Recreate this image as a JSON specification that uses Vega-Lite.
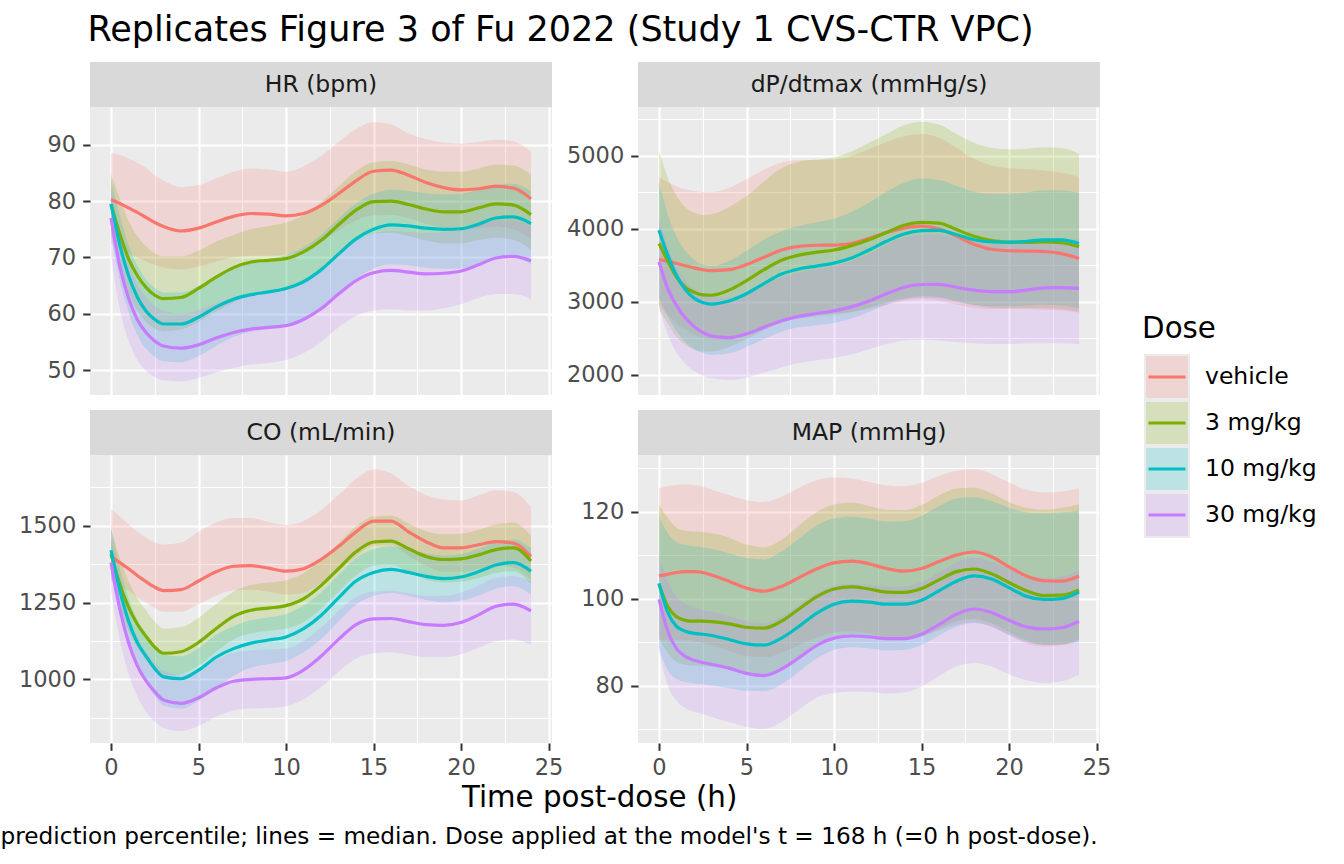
{
  "$schema": "https://vega.github.io/schema/vega-lite/v6.json",
  "padding": {"left": 0, "top": 13, "right": 10, "bottom": 6},
  "title": {"text": "Replicates Figure 3 of Fu 2022 (Study 1 CVS-CTR VPC)", "anchor": "start", "fontSize": 35, "fontWeight": "normal", "color": "#000000", "dx": 87, "offset": 14},
  "config": {
    "font": "DejaVu Sans",
    "view": {"stroke": null},
    "axis": {"domain": false, "gridColor": "#FFFFFF", "tickColor": "#333333", "tickWidth": 2, "tickSize": 7.3, "labelColor": "#4D4D4D", "labelFontSize": 22.5, "labelFont": "DejaVu Sans", "labelPadding": 7, "labelOverlap": false, "labelFlush": false, "title": null},
    "title": {"fontWeight": "normal", "color": "#000000", "font": "DejaVu Sans"}
  },
  "data": {"name": "vpc"},
  "vconcat": [
    {
      "title": {"text": "prediction percentile; lines = median. Dose applied at the model's t = 168 h (=0 h post-dose).", "orient": "bottom", "anchor": "end", "fontSize": 23.2, "offset": 13, "dx": -219},
      "spacing": 31,
      "hconcat": [
        {
          "title": {"text": "Time post-dose (h)", "orient": "bottom", "anchor": "middle", "fontSize": 29.3, "offset": 5, "dx": 35},
          "columns": 2,
          "spacing": {"row": 15, "column": 3},
          "concat": [
            {
              "spacing": 0,
              "vconcat": [
                {
                  "width": 462, "height": 45,
                  "view": {"fill": "#D9D9D9", "stroke": null},
                  "data": {"values": [{"strip": "HR (bpm)"}]},
                  "mark": {"type": "text", "fontSize": 23.5, "color": "#1A1A1A"},
                  "encoding": {"text": {"field": "strip", "type": "nominal"}}
                },
                {
                  "width": 462, "height": 288,
                  "view": {"fill": "#EBEBEB", "stroke": null},
                  "transform": [{"filter": "datum.p === 'HR'"}],
                  "encoding": {
                    "x": {"field": "t", "type": "quantitative", "scale": {"domain": [-1.2, 25.2], "nice": false, "zero": false},
                      "axis": {"values": [0, 2.5, 5, 7.5, 10, 12.5, 15, 17.5, 20, 22.5, 25], "labels": false, "ticks": false, "minExtent": 0, "maxExtent": 0,
                        "gridWidth": {"condition": {"test": "datum.value % 5 === 0", "value": 2.2}, "value": 1.1}}},
                    "color": {"field": "d", "type": "nominal", "legend": null,
                      "scale": {"domain": ["vehicle", "3 mg/kg", "10 mg/kg", "30 mg/kg"], "range": ["#F8766D", "#7CAE00", "#00BFC4", "#C77CFF"]}}
                  },
                  "layer": [
                    {
                      "mark": {"type": "area", "opacity": 0.2, "interpolate": "monotone"},
                      "encoding": {
                        "y": {"field": "l", "type": "quantitative", "scale": {"domain": [45.6, 96.7], "nice": false, "zero": false},
                          "axis": {"values": [50, 55, 60, 65, 70, 75, 80, 85, 90, 95], "minExtent": 70, "maxExtent": 70,
                            "labelExpr": "datum.value % 10 === 0 ? datum.label : ''",
                            "tickOpacity": {"condition": {"test": "datum.value % 10 === 0", "value": 1}, "value": 0},
                            "gridWidth": {"condition": {"test": "datum.value % 10 === 0", "value": 2.2}, "value": 1.1}}},
                        "y2": {"field": "h"}
                      }
                    },
                    {"mark": {"type": "line", "strokeWidth": 3.2, "interpolate": "monotone"}, "encoding": {"y": {"field": "m", "type": "quantitative"}}}
                  ]
                }
              ]
            },
            {
              "spacing": 0,
              "vconcat": [
                {
                  "width": 462, "height": 45,
                  "view": {"fill": "#D9D9D9", "stroke": null},
                  "data": {"values": [{"strip": "dP/dtmax (mmHg/s)"}]},
                  "mark": {"type": "text", "fontSize": 23.5, "color": "#1A1A1A"},
                  "encoding": {"text": {"field": "strip", "type": "nominal"}}
                },
                {
                  "width": 462, "height": 288,
                  "view": {"fill": "#EBEBEB", "stroke": null},
                  "transform": [{"filter": "datum.p === 'dP'"}],
                  "encoding": {
                    "x": {"field": "t", "type": "quantitative", "scale": {"domain": [-1.2, 25.2], "nice": false, "zero": false},
                      "axis": {"values": [0, 2.5, 5, 7.5, 10, 12.5, 15, 17.5, 20, 22.5, 25], "labels": false, "ticks": false, "minExtent": 0, "maxExtent": 0,
                        "gridWidth": {"condition": {"test": "datum.value % 5 === 0", "value": 2.2}, "value": 1.1}}},
                    "color": {"field": "d", "type": "nominal", "legend": null,
                      "scale": {"domain": ["vehicle", "3 mg/kg", "10 mg/kg", "30 mg/kg"], "range": ["#F8766D", "#7CAE00", "#00BFC4", "#C77CFF"]}}
                  },
                  "layer": [
                    {
                      "mark": {"type": "area", "opacity": 0.2, "interpolate": "monotone"},
                      "encoding": {
                        "y": {"field": "l", "type": "quantitative", "scale": {"domain": [1722, 5671], "nice": false, "zero": false},
                          "axis": {"values": [2000, 2500, 3000, 3500, 4000, 4500, 5000, 5500], "minExtent": 70, "maxExtent": 70, "format": "d",
                            "labelExpr": "datum.value % 1000 === 0 ? datum.label : ''",
                            "tickOpacity": {"condition": {"test": "datum.value % 1000 === 0", "value": 1}, "value": 0},
                            "gridWidth": {"condition": {"test": "datum.value % 1000 === 0", "value": 2.2}, "value": 1.1}}},
                        "y2": {"field": "h"}
                      }
                    },
                    {"mark": {"type": "line", "strokeWidth": 3.2, "interpolate": "monotone"}, "encoding": {"y": {"field": "m", "type": "quantitative"}}}
                  ]
                }
              ]
            },
            {
              "spacing": 0,
              "vconcat": [
                {
                  "width": 462, "height": 45,
                  "view": {"fill": "#D9D9D9", "stroke": null},
                  "data": {"values": [{"strip": "CO (mL/min)"}]},
                  "mark": {"type": "text", "fontSize": 23.5, "color": "#1A1A1A"},
                  "encoding": {"text": {"field": "strip", "type": "nominal"}}
                },
                {
                  "width": 462, "height": 288,
                  "view": {"fill": "#EBEBEB", "stroke": null},
                  "transform": [{"filter": "datum.p === 'CO'"}],
                  "encoding": {
                    "x": {"field": "t", "type": "quantitative", "scale": {"domain": [-1.2, 25.2], "nice": false, "zero": false},
                      "axis": {"values": [0, 2.5, 5, 7.5, 10, 12.5, 15, 17.5, 20, 22.5, 25], "labelPadding": 6,
                        "labelExpr": "datum.value % 5 === 0 ? datum.label : ''",
                        "tickOpacity": {"condition": {"test": "datum.value % 5 === 0", "value": 1}, "value": 0},
                        "gridWidth": {"condition": {"test": "datum.value % 5 === 0", "value": 2.2}, "value": 1.1}}},
                    "color": {"field": "d", "type": "nominal", "legend": null,
                      "scale": {"domain": ["vehicle", "3 mg/kg", "10 mg/kg", "30 mg/kg"], "range": ["#F8766D", "#7CAE00", "#00BFC4", "#C77CFF"]}}
                  },
                  "layer": [
                    {
                      "mark": {"type": "area", "opacity": 0.2, "interpolate": "monotone"},
                      "encoding": {
                        "y": {"field": "l", "type": "quantitative", "scale": {"domain": [793, 1730], "nice": false, "zero": false},
                          "axis": {"values": [875, 1000, 1125, 1250, 1375, 1500, 1625], "minExtent": 70, "maxExtent": 70, "format": "d",
                            "labelExpr": "datum.value % 250 === 0 ? datum.label : ''",
                            "tickOpacity": {"condition": {"test": "datum.value % 250 === 0", "value": 1}, "value": 0},
                            "gridWidth": {"condition": {"test": "datum.value % 250 === 0", "value": 2.2}, "value": 1.1}}},
                        "y2": {"field": "h"}
                      }
                    },
                    {"mark": {"type": "line", "strokeWidth": 3.2, "interpolate": "monotone"}, "encoding": {"y": {"field": "m", "type": "quantitative"}}}
                  ]
                }
              ]
            },
            {
              "spacing": 0,
              "vconcat": [
                {
                  "width": 462, "height": 45,
                  "view": {"fill": "#D9D9D9", "stroke": null},
                  "data": {"values": [{"strip": "MAP (mmHg)"}]},
                  "mark": {"type": "text", "fontSize": 23.5, "color": "#1A1A1A"},
                  "encoding": {"text": {"field": "strip", "type": "nominal"}}
                },
                {
                  "width": 462, "height": 288,
                  "view": {"fill": "#EBEBEB", "stroke": null},
                  "transform": [{"filter": "datum.p === 'MAP'"}],
                  "encoding": {
                    "x": {"field": "t", "type": "quantitative", "scale": {"domain": [-1.2, 25.2], "nice": false, "zero": false},
                      "axis": {"values": [0, 2.5, 5, 7.5, 10, 12.5, 15, 17.5, 20, 22.5, 25], "labelPadding": 6,
                        "labelExpr": "datum.value % 5 === 0 ? datum.label : ''",
                        "tickOpacity": {"condition": {"test": "datum.value % 5 === 0", "value": 1}, "value": 0},
                        "gridWidth": {"condition": {"test": "datum.value % 5 === 0", "value": 2.2}, "value": 1.1}}},
                    "color": {"field": "d", "type": "nominal", "legend": null,
                      "scale": {"domain": ["vehicle", "3 mg/kg", "10 mg/kg", "30 mg/kg"], "range": ["#F8766D", "#7CAE00", "#00BFC4", "#C77CFF"]}}
                  },
                  "layer": [
                    {
                      "mark": {"type": "area", "opacity": 0.2, "interpolate": "monotone"},
                      "encoding": {
                        "y": {"field": "l", "type": "quantitative", "scale": {"domain": [66.8, 133], "nice": false, "zero": false},
                          "axis": {"values": [70, 80, 90, 100, 110, 120, 130], "minExtent": 70, "maxExtent": 70,
                            "labelExpr": "datum.value % 20 === 0 ? datum.label : ''",
                            "tickOpacity": {"condition": {"test": "datum.value % 20 === 0", "value": 1}, "value": 0},
                            "gridWidth": {"condition": {"test": "datum.value % 20 === 0", "value": 2.2}, "value": 1.1}}},
                        "y2": {"field": "h"}
                      }
                    },
                    {"mark": {"type": "line", "strokeWidth": 3.2, "interpolate": "monotone"}, "encoding": {"y": {"field": "m", "type": "quantitative"}}}
                  ]
                }
              ]
            }
          ]
        },
        {
          "spacing": 0,
          "vconcat": [
            {"width": 46, "height": 252, "data": {"values": []}, "mark": "point"},
            {
              "width": 46, "height": 184,
              "title": {"text": "Dose", "anchor": "start", "fontSize": 29.3, "offset": 10},
              "data": {"values": [{"d": "vehicle"}, {"d": "3 mg/kg"}, {"d": "10 mg/kg"}, {"d": "30 mg/kg"}]},
              "encoding": {
                "y": {"field": "d", "type": "nominal", "sort": ["vehicle", "3 mg/kg", "10 mg/kg", "30 mg/kg"], "axis": null, "scale": {"padding": 0.5}}
              },
              "layer": [
                {"mark": {"type": "square", "size": 2116, "color": "#EBEBEB", "opacity": 1}},
                {"mark": {"type": "square", "size": 1764, "opacity": 0.2},
                 "encoding": {"color": {"field": "d", "type": "nominal", "legend": null, "scale": {"domain": ["vehicle", "3 mg/kg", "10 mg/kg", "30 mg/kg"], "range": ["#F8766D", "#7CAE00", "#00BFC4", "#C77CFF"]}}}},
                {"mark": {"type": "point", "shape": "M-1,0H1", "size": 1369, "filled": false, "strokeWidth": 3.2, "opacity": 1},
                 "encoding": {"color": {"field": "d", "type": "nominal", "legend": null, "scale": {"domain": ["vehicle", "3 mg/kg", "10 mg/kg", "30 mg/kg"], "range": ["#F8766D", "#7CAE00", "#00BFC4", "#C77CFF"]}}}},
                {"mark": {"type": "text", "align": "left", "dx": 38, "fontSize": 23.5, "color": "#000000"}, "encoding": {"text": {"field": "d", "type": "nominal"}}}
              ]
            }
          ]
        }
      ]
    }
  ],
  "datasets": {
    "vpc": [
      {"p":"HR","d":"vehicle","t":0,"m":80.3,"l":72.5,"h":88.6},
      {"p":"HR","d":"vehicle","t":0.5,"m":79.6,"l":71.5,"h":88.2},
      {"p":"HR","d":"vehicle","t":1,"m":78.8,"l":70.8,"h":87.6},
      {"p":"HR","d":"vehicle","t":1.5,"m":78.0,"l":70.0,"h":86.8},
      {"p":"HR","d":"vehicle","t":2,"m":77.1,"l":69.3,"h":85.9},
      {"p":"HR","d":"vehicle","t":2.5,"m":76.2,"l":68.7,"h":84.6},
      {"p":"HR","d":"vehicle","t":3,"m":75.5,"l":68.2,"h":83.6},
      {"p":"HR","d":"vehicle","t":4,"m":74.7,"l":67.9,"h":82.5},
      {"p":"HR","d":"vehicle","t":5,"m":75.2,"l":68.4,"h":82.8},
      {"p":"HR","d":"vehicle","t":6,"m":76.3,"l":69.3,"h":84.0},
      {"p":"HR","d":"vehicle","t":7,"m":77.3,"l":70.0,"h":85.2},
      {"p":"HR","d":"vehicle","t":8,"m":77.8,"l":70.3,"h":85.8},
      {"p":"HR","d":"vehicle","t":9,"m":77.7,"l":70.3,"h":85.6},
      {"p":"HR","d":"vehicle","t":10,"m":77.4,"l":70.5,"h":85.2},
      {"p":"HR","d":"vehicle","t":11,"m":77.8,"l":71.3,"h":86.2},
      {"p":"HR","d":"vehicle","t":12,"m":79.2,"l":72.8,"h":88.0},
      {"p":"HR","d":"vehicle","t":13,"m":81.3,"l":74.8,"h":90.5},
      {"p":"HR","d":"vehicle","t":14,"m":83.6,"l":76.6,"h":92.8},
      {"p":"HR","d":"vehicle","t":15,"m":85.3,"l":77.5,"h":94.0},
      {"p":"HR","d":"vehicle","t":16,"m":85.5,"l":77.6,"h":93.6},
      {"p":"HR","d":"vehicle","t":17,"m":84.6,"l":77.0,"h":92.0},
      {"p":"HR","d":"vehicle","t":18,"m":83.3,"l":76.0,"h":91.0},
      {"p":"HR","d":"vehicle","t":19,"m":82.4,"l":75.3,"h":90.4},
      {"p":"HR","d":"vehicle","t":20,"m":82.0,"l":75.0,"h":90.2},
      {"p":"HR","d":"vehicle","t":21,"m":82.2,"l":75.2,"h":90.5},
      {"p":"HR","d":"vehicle","t":22,"m":82.6,"l":75.5,"h":90.9},
      {"p":"HR","d":"vehicle","t":23,"m":82.3,"l":75.0,"h":90.6},
      {"p":"HR","d":"vehicle","t":24,"m":80.4,"l":73.3,"h":88.8},

      {"p":"HR","d":"3 mg/kg","t":0,"m":79.4,"l":74.5,"h":84.8},
      {"p":"HR","d":"3 mg/kg","t":0.5,"m":74.2,"l":68.6,"h":80.5},
      {"p":"HR","d":"3 mg/kg","t":1,"m":69.8,"l":63.8,"h":76.5},
      {"p":"HR","d":"3 mg/kg","t":1.5,"m":66.8,"l":60.6,"h":73.8},
      {"p":"HR","d":"3 mg/kg","t":2,"m":64.7,"l":58.6,"h":72.0},
      {"p":"HR","d":"3 mg/kg","t":2.5,"m":63.3,"l":57.4,"h":70.8},
      {"p":"HR","d":"3 mg/kg","t":3,"m":62.7,"l":56.9,"h":70.2},
      {"p":"HR","d":"3 mg/kg","t":4,"m":62.9,"l":57.2,"h":70.2},
      {"p":"HR","d":"3 mg/kg","t":5,"m":64.5,"l":58.6,"h":71.2},
      {"p":"HR","d":"3 mg/kg","t":6,"m":66.5,"l":60.4,"h":72.8},
      {"p":"HR","d":"3 mg/kg","t":7,"m":68.2,"l":62.0,"h":74.0},
      {"p":"HR","d":"3 mg/kg","t":8,"m":69.2,"l":63.2,"h":75.0},
      {"p":"HR","d":"3 mg/kg","t":9,"m":69.5,"l":63.8,"h":75.6},
      {"p":"HR","d":"3 mg/kg","t":10,"m":69.8,"l":64.3,"h":76.2},
      {"p":"HR","d":"3 mg/kg","t":11,"m":71.0,"l":65.6,"h":77.6},
      {"p":"HR","d":"3 mg/kg","t":12,"m":73.0,"l":67.6,"h":79.8},
      {"p":"HR","d":"3 mg/kg","t":13,"m":75.8,"l":70.3,"h":82.6},
      {"p":"HR","d":"3 mg/kg","t":14,"m":78.4,"l":72.8,"h":85.3},
      {"p":"HR","d":"3 mg/kg","t":15,"m":79.9,"l":74.2,"h":86.9},
      {"p":"HR","d":"3 mg/kg","t":16,"m":80.0,"l":74.4,"h":87.1},
      {"p":"HR","d":"3 mg/kg","t":17,"m":79.4,"l":73.8,"h":86.5},
      {"p":"HR","d":"3 mg/kg","t":18,"m":78.6,"l":73.0,"h":85.6},
      {"p":"HR","d":"3 mg/kg","t":19,"m":78.1,"l":72.5,"h":85.2},
      {"p":"HR","d":"3 mg/kg","t":20,"m":78.1,"l":72.5,"h":85.2},
      {"p":"HR","d":"3 mg/kg","t":21,"m":78.8,"l":73.1,"h":85.8},
      {"p":"HR","d":"3 mg/kg","t":22,"m":79.5,"l":73.5,"h":86.5},
      {"p":"HR","d":"3 mg/kg","t":23,"m":79.3,"l":73.1,"h":86.3},
      {"p":"HR","d":"3 mg/kg","t":24,"m":77.6,"l":71.4,"h":84.7},

      {"p":"HR","d":"10 mg/kg","t":0,"m":79.5,"l":74.0,"h":84.0},
      {"p":"HR","d":"10 mg/kg","t":0.5,"m":72.3,"l":66.0,"h":77.5},
      {"p":"HR","d":"10 mg/kg","t":1,"m":66.8,"l":60.3,"h":72.3},
      {"p":"HR","d":"10 mg/kg","t":1.5,"m":63.0,"l":56.3,"h":68.6},
      {"p":"HR","d":"10 mg/kg","t":2,"m":60.5,"l":53.8,"h":66.1},
      {"p":"HR","d":"10 mg/kg","t":2.5,"m":59.0,"l":52.4,"h":64.6},
      {"p":"HR","d":"10 mg/kg","t":3,"m":58.2,"l":51.6,"h":63.8},
      {"p":"HR","d":"10 mg/kg","t":4,"m":58.2,"l":51.4,"h":63.8},
      {"p":"HR","d":"10 mg/kg","t":5,"m":59.4,"l":52.5,"h":65.0},
      {"p":"HR","d":"10 mg/kg","t":6,"m":61.2,"l":54.3,"h":66.8},
      {"p":"HR","d":"10 mg/kg","t":7,"m":62.6,"l":55.9,"h":68.2},
      {"p":"HR","d":"10 mg/kg","t":8,"m":63.4,"l":56.8,"h":69.1},
      {"p":"HR","d":"10 mg/kg","t":9,"m":63.9,"l":57.3,"h":69.7},
      {"p":"HR","d":"10 mg/kg","t":10,"m":64.5,"l":57.9,"h":70.4},
      {"p":"HR","d":"10 mg/kg","t":11,"m":65.7,"l":59.1,"h":71.8},
      {"p":"HR","d":"10 mg/kg","t":12,"m":67.8,"l":61.1,"h":74.0},
      {"p":"HR","d":"10 mg/kg","t":13,"m":70.6,"l":63.8,"h":76.9},
      {"p":"HR","d":"10 mg/kg","t":14,"m":73.3,"l":66.3,"h":79.6},
      {"p":"HR","d":"10 mg/kg","t":15,"m":75.0,"l":68.0,"h":81.3},
      {"p":"HR","d":"10 mg/kg","t":16,"m":75.8,"l":68.8,"h":82.0},
      {"p":"HR","d":"10 mg/kg","t":17,"m":75.6,"l":68.6,"h":81.8},
      {"p":"HR","d":"10 mg/kg","t":18,"m":75.2,"l":68.2,"h":81.4},
      {"p":"HR","d":"10 mg/kg","t":19,"m":75.0,"l":68.0,"h":81.2},
      {"p":"HR","d":"10 mg/kg","t":20,"m":75.1,"l":68.1,"h":81.3},
      {"p":"HR","d":"10 mg/kg","t":21,"m":75.9,"l":68.8,"h":82.0},
      {"p":"HR","d":"10 mg/kg","t":22,"m":77.0,"l":69.8,"h":83.0},
      {"p":"HR","d":"10 mg/kg","t":23,"m":77.2,"l":69.9,"h":83.1},
      {"p":"HR","d":"10 mg/kg","t":24,"m":76.0,"l":68.8,"h":81.8},

      {"p":"HR","d":"30 mg/kg","t":0,"m":77.0,"l":70.5,"h":82.5},
      {"p":"HR","d":"30 mg/kg","t":0.5,"m":68.5,"l":61.0,"h":74.5},
      {"p":"HR","d":"30 mg/kg","t":1,"m":62.8,"l":55.3,"h":69.0},
      {"p":"HR","d":"30 mg/kg","t":1.5,"m":59.0,"l":51.8,"h":65.3},
      {"p":"HR","d":"30 mg/kg","t":2,"m":56.7,"l":49.9,"h":63.0},
      {"p":"HR","d":"30 mg/kg","t":2.5,"m":55.2,"l":48.8,"h":61.5},
      {"p":"HR","d":"30 mg/kg","t":3,"m":54.3,"l":48.2,"h":60.6},
      {"p":"HR","d":"30 mg/kg","t":4,"m":53.9,"l":48.0,"h":60.1},
      {"p":"HR","d":"30 mg/kg","t":5,"m":54.5,"l":48.6,"h":60.7},
      {"p":"HR","d":"30 mg/kg","t":6,"m":55.7,"l":49.6,"h":61.9},
      {"p":"HR","d":"30 mg/kg","t":7,"m":56.7,"l":50.4,"h":63.0},
      {"p":"HR","d":"30 mg/kg","t":8,"m":57.3,"l":51.0,"h":63.7},
      {"p":"HR","d":"30 mg/kg","t":9,"m":57.6,"l":51.3,"h":64.1},
      {"p":"HR","d":"30 mg/kg","t":10,"m":57.9,"l":51.8,"h":64.6},
      {"p":"HR","d":"30 mg/kg","t":11,"m":59.0,"l":53.0,"h":65.8},
      {"p":"HR","d":"30 mg/kg","t":12,"m":60.9,"l":55.0,"h":67.8},
      {"p":"HR","d":"30 mg/kg","t":13,"m":63.5,"l":57.6,"h":70.5},
      {"p":"HR","d":"30 mg/kg","t":14,"m":65.9,"l":59.6,"h":72.9},
      {"p":"HR","d":"30 mg/kg","t":15,"m":67.3,"l":60.6,"h":74.3},
      {"p":"HR","d":"30 mg/kg","t":16,"m":67.7,"l":60.8,"h":74.7},
      {"p":"HR","d":"30 mg/kg","t":17,"m":67.4,"l":60.6,"h":74.5},
      {"p":"HR","d":"30 mg/kg","t":18,"m":67.1,"l":60.6,"h":74.3},
      {"p":"HR","d":"30 mg/kg","t":19,"m":67.2,"l":61.0,"h":74.5},
      {"p":"HR","d":"30 mg/kg","t":20,"m":67.6,"l":61.7,"h":75.0},
      {"p":"HR","d":"30 mg/kg","t":21,"m":68.7,"l":62.8,"h":75.9},
      {"p":"HR","d":"30 mg/kg","t":22,"m":69.9,"l":63.5,"h":76.6},
      {"p":"HR","d":"30 mg/kg","t":23,"m":70.2,"l":63.5,"h":76.5},
      {"p":"HR","d":"30 mg/kg","t":24,"m":69.4,"l":62.6,"h":75.5},

      {"p":"dP","d":"vehicle","t":0,"m":3580,"l":2950,"h":4712},
      {"p":"dP","d":"vehicle","t":0.5,"m":3555,"l":2820,"h":4640},
      {"p":"dP","d":"vehicle","t":1,"m":3525,"l":2700,"h":4580},
      {"p":"dP","d":"vehicle","t":1.5,"m":3495,"l":2620,"h":4540},
      {"p":"dP","d":"vehicle","t":2,"m":3465,"l":2550,"h":4520},
      {"p":"dP","d":"vehicle","t":2.5,"m":3440,"l":2510,"h":4505},
      {"p":"dP","d":"vehicle","t":3,"m":3428,"l":2480,"h":4505},
      {"p":"dP","d":"vehicle","t":4,"m":3440,"l":2480,"h":4560},
      {"p":"dP","d":"vehicle","t":5,"m":3510,"l":2560,"h":4680},
      {"p":"dP","d":"vehicle","t":6,"m":3610,"l":2660,"h":4810},
      {"p":"dP","d":"vehicle","t":7,"m":3710,"l":2760,"h":4910},
      {"p":"dP","d":"vehicle","t":8,"m":3760,"l":2810,"h":4945},
      {"p":"dP","d":"vehicle","t":9,"m":3775,"l":2830,"h":4945},
      {"p":"dP","d":"vehicle","t":10,"m":3778,"l":2840,"h":4950},
      {"p":"dP","d":"vehicle","t":11,"m":3800,"l":2860,"h":5000},
      {"p":"dP","d":"vehicle","t":12,"m":3870,"l":2900,"h":5090},
      {"p":"dP","d":"vehicle","t":13,"m":3950,"l":2960,"h":5190},
      {"p":"dP","d":"vehicle","t":14,"m":4010,"l":3010,"h":5270},
      {"p":"dP","d":"vehicle","t":15,"m":4037,"l":3030,"h":5300},
      {"p":"dP","d":"vehicle","t":16,"m":4000,"l":3010,"h":5250},
      {"p":"dP","d":"vehicle","t":17,"m":3900,"l":2960,"h":5110},
      {"p":"dP","d":"vehicle","t":18,"m":3790,"l":2920,"h":4960},
      {"p":"dP","d":"vehicle","t":19,"m":3720,"l":2900,"h":4870},
      {"p":"dP","d":"vehicle","t":20,"m":3700,"l":2900,"h":4830},
      {"p":"dP","d":"vehicle","t":21,"m":3695,"l":2900,"h":4820},
      {"p":"dP","d":"vehicle","t":22,"m":3690,"l":2890,"h":4800},
      {"p":"dP","d":"vehicle","t":23,"m":3660,"l":2880,"h":4770},
      {"p":"dP","d":"vehicle","t":24,"m":3594,"l":2850,"h":4712},

      {"p":"dP","d":"3 mg/kg","t":0,"m":3800,"l":2900,"h":5070},
      {"p":"dP","d":"3 mg/kg","t":0.5,"m":3560,"l":2700,"h":4700},
      {"p":"dP","d":"3 mg/kg","t":1,"m":3340,"l":2520,"h":4450},
      {"p":"dP","d":"3 mg/kg","t":1.5,"m":3200,"l":2410,"h":4300},
      {"p":"dP","d":"3 mg/kg","t":2,"m":3130,"l":2350,"h":4220},
      {"p":"dP","d":"3 mg/kg","t":2.5,"m":3095,"l":2320,"h":4190},
      {"p":"dP","d":"3 mg/kg","t":3,"m":3090,"l":2320,"h":4200},
      {"p":"dP","d":"3 mg/kg","t":4,"m":3160,"l":2380,"h":4300},
      {"p":"dP","d":"3 mg/kg","t":5,"m":3290,"l":2490,"h":4450},
      {"p":"dP","d":"3 mg/kg","t":6,"m":3440,"l":2610,"h":4650},
      {"p":"dP","d":"3 mg/kg","t":7,"m":3570,"l":2710,"h":4830},
      {"p":"dP","d":"3 mg/kg","t":8,"m":3640,"l":2770,"h":4920},
      {"p":"dP","d":"3 mg/kg","t":9,"m":3680,"l":2800,"h":4950},
      {"p":"dP","d":"3 mg/kg","t":10,"m":3710,"l":2820,"h":4980},
      {"p":"dP","d":"3 mg/kg","t":11,"m":3770,"l":2860,"h":5060},
      {"p":"dP","d":"3 mg/kg","t":12,"m":3850,"l":2920,"h":5180},
      {"p":"dP","d":"3 mg/kg","t":13,"m":3950,"l":2990,"h":5300},
      {"p":"dP","d":"3 mg/kg","t":14,"m":4050,"l":3050,"h":5420},
      {"p":"dP","d":"3 mg/kg","t":15,"m":4090,"l":3080,"h":5470},
      {"p":"dP","d":"3 mg/kg","t":16,"m":4080,"l":3070,"h":5430},
      {"p":"dP","d":"3 mg/kg","t":17,"m":3990,"l":3010,"h":5300},
      {"p":"dP","d":"3 mg/kg","t":18,"m":3900,"l":2950,"h":5180},
      {"p":"dP","d":"3 mg/kg","t":19,"m":3840,"l":2920,"h":5110},
      {"p":"dP","d":"3 mg/kg","t":20,"m":3820,"l":2910,"h":5090},
      {"p":"dP","d":"3 mg/kg","t":21,"m":3815,"l":2910,"h":5100},
      {"p":"dP","d":"3 mg/kg","t":22,"m":3820,"l":2910,"h":5120},
      {"p":"dP","d":"3 mg/kg","t":23,"m":3810,"l":2900,"h":5110},
      {"p":"dP","d":"3 mg/kg","t":24,"m":3755,"l":2860,"h":5030},

      {"p":"dP","d":"10 mg/kg","t":0,"m":3980,"l":3050,"h":4650},
      {"p":"dP","d":"10 mg/kg","t":0.5,"m":3640,"l":2800,"h":4200},
      {"p":"dP","d":"10 mg/kg","t":1,"m":3360,"l":2600,"h":3900},
      {"p":"dP","d":"10 mg/kg","t":1.5,"m":3170,"l":2450,"h":3700},
      {"p":"dP","d":"10 mg/kg","t":2,"m":3050,"l":2350,"h":3580},
      {"p":"dP","d":"10 mg/kg","t":2.5,"m":2990,"l":2300,"h":3510},
      {"p":"dP","d":"10 mg/kg","t":3,"m":2968,"l":2270,"h":3490},
      {"p":"dP","d":"10 mg/kg","t":4,"m":3010,"l":2290,"h":3560},
      {"p":"dP","d":"10 mg/kg","t":5,"m":3110,"l":2380,"h":3700},
      {"p":"dP","d":"10 mg/kg","t":6,"m":3250,"l":2490,"h":3850},
      {"p":"dP","d":"10 mg/kg","t":7,"m":3380,"l":2590,"h":3970},
      {"p":"dP","d":"10 mg/kg","t":8,"m":3450,"l":2650,"h":4040},
      {"p":"dP","d":"10 mg/kg","t":9,"m":3490,"l":2680,"h":4090},
      {"p":"dP","d":"10 mg/kg","t":10,"m":3530,"l":2710,"h":4140},
      {"p":"dP","d":"10 mg/kg","t":11,"m":3600,"l":2770,"h":4230},
      {"p":"dP","d":"10 mg/kg","t":12,"m":3710,"l":2860,"h":4360},
      {"p":"dP","d":"10 mg/kg","t":13,"m":3830,"l":2960,"h":4510},
      {"p":"dP","d":"10 mg/kg","t":14,"m":3930,"l":3030,"h":4630},
      {"p":"dP","d":"10 mg/kg","t":15,"m":3975,"l":3060,"h":4690},
      {"p":"dP","d":"10 mg/kg","t":16,"m":3980,"l":3050,"h":4670},
      {"p":"dP","d":"10 mg/kg","t":17,"m":3920,"l":3000,"h":4590},
      {"p":"dP","d":"10 mg/kg","t":18,"m":3850,"l":2960,"h":4510},
      {"p":"dP","d":"10 mg/kg","t":19,"m":3820,"l":2940,"h":4480},
      {"p":"dP","d":"10 mg/kg","t":20,"m":3815,"l":2940,"h":4480},
      {"p":"dP","d":"10 mg/kg","t":21,"m":3830,"l":2950,"h":4500},
      {"p":"dP","d":"10 mg/kg","t":22,"m":3850,"l":2960,"h":4530},
      {"p":"dP","d":"10 mg/kg","t":23,"m":3850,"l":2950,"h":4530},
      {"p":"dP","d":"10 mg/kg","t":24,"m":3800,"l":2910,"h":4490},

      {"p":"dP","d":"30 mg/kg","t":0,"m":3550,"l":2950,"h":4150},
      {"p":"dP","d":"30 mg/kg","t":0.5,"m":3180,"l":2550,"h":3750},
      {"p":"dP","d":"30 mg/kg","t":1,"m":2950,"l":2300,"h":3480},
      {"p":"dP","d":"30 mg/kg","t":1.5,"m":2780,"l":2150,"h":3300},
      {"p":"dP","d":"30 mg/kg","t":2,"m":2660,"l":2050,"h":3180},
      {"p":"dP","d":"30 mg/kg","t":2.5,"m":2580,"l":1990,"h":3100},
      {"p":"dP","d":"30 mg/kg","t":3,"m":2530,"l":1950,"h":3060},
      {"p":"dP","d":"30 mg/kg","t":4,"m":2510,"l":1930,"h":3060},
      {"p":"dP","d":"30 mg/kg","t":5,"m":2560,"l":1960,"h":3130},
      {"p":"dP","d":"30 mg/kg","t":6,"m":2650,"l":2030,"h":3230},
      {"p":"dP","d":"30 mg/kg","t":7,"m":2740,"l":2100,"h":3330},
      {"p":"dP","d":"30 mg/kg","t":8,"m":2800,"l":2160,"h":3400},
      {"p":"dP","d":"30 mg/kg","t":9,"m":2840,"l":2200,"h":3450},
      {"p":"dP","d":"30 mg/kg","t":10,"m":2875,"l":2230,"h":3490},
      {"p":"dP","d":"30 mg/kg","t":11,"m":2930,"l":2280,"h":3560},
      {"p":"dP","d":"30 mg/kg","t":12,"m":3010,"l":2350,"h":3660},
      {"p":"dP","d":"30 mg/kg","t":13,"m":3110,"l":2420,"h":3780},
      {"p":"dP","d":"30 mg/kg","t":14,"m":3200,"l":2470,"h":3880},
      {"p":"dP","d":"30 mg/kg","t":15,"m":3237,"l":2480,"h":3920},
      {"p":"dP","d":"30 mg/kg","t":16,"m":3240,"l":2470,"h":3920},
      {"p":"dP","d":"30 mg/kg","t":17,"m":3200,"l":2450,"h":3870},
      {"p":"dP","d":"30 mg/kg","t":18,"m":3160,"l":2430,"h":3820},
      {"p":"dP","d":"30 mg/kg","t":19,"m":3140,"l":2420,"h":3800},
      {"p":"dP","d":"30 mg/kg","t":20,"m":3140,"l":2420,"h":3800},
      {"p":"dP","d":"30 mg/kg","t":21,"m":3160,"l":2430,"h":3820},
      {"p":"dP","d":"30 mg/kg","t":22,"m":3190,"l":2430,"h":3850},
      {"p":"dP","d":"30 mg/kg","t":23,"m":3195,"l":2430,"h":3860},
      {"p":"dP","d":"30 mg/kg","t":24,"m":3185,"l":2420,"h":3850},

      {"p":"CO","d":"vehicle","t":0,"m":1400,"l":1320,"h":1555},
      {"p":"CO","d":"vehicle","t":0.5,"m":1380,"l":1305,"h":1530},
      {"p":"CO","d":"vehicle","t":1,"m":1360,"l":1288,"h":1505},
      {"p":"CO","d":"vehicle","t":1.5,"m":1338,"l":1268,"h":1480},
      {"p":"CO","d":"vehicle","t":2,"m":1318,"l":1250,"h":1462},
      {"p":"CO","d":"vehicle","t":2.5,"m":1300,"l":1232,"h":1445},
      {"p":"CO","d":"vehicle","t":3,"m":1289,"l":1220,"h":1438},
      {"p":"CO","d":"vehicle","t":4,"m":1292,"l":1220,"h":1445},
      {"p":"CO","d":"vehicle","t":5,"m":1320,"l":1245,"h":1480},
      {"p":"CO","d":"vehicle","t":6,"m":1350,"l":1272,"h":1510},
      {"p":"CO","d":"vehicle","t":7,"m":1368,"l":1290,"h":1525},
      {"p":"CO","d":"vehicle","t":8,"m":1370,"l":1292,"h":1525},
      {"p":"CO","d":"vehicle","t":9,"m":1362,"l":1285,"h":1512},
      {"p":"CO","d":"vehicle","t":10,"m":1352,"l":1276,"h":1502},
      {"p":"CO","d":"vehicle","t":11,"m":1360,"l":1283,"h":1515},
      {"p":"CO","d":"vehicle","t":12,"m":1390,"l":1312,"h":1550},
      {"p":"CO","d":"vehicle","t":13,"m":1432,"l":1353,"h":1600},
      {"p":"CO","d":"vehicle","t":14,"m":1480,"l":1400,"h":1652},
      {"p":"CO","d":"vehicle","t":15,"m":1515,"l":1435,"h":1683},
      {"p":"CO","d":"vehicle","t":16,"m":1515,"l":1436,"h":1670},
      {"p":"CO","d":"vehicle","t":17,"m":1480,"l":1402,"h":1630},
      {"p":"CO","d":"vehicle","t":18,"m":1448,"l":1370,"h":1600},
      {"p":"CO","d":"vehicle","t":19,"m":1428,"l":1350,"h":1585},
      {"p":"CO","d":"vehicle","t":20,"m":1428,"l":1350,"h":1582},
      {"p":"CO","d":"vehicle","t":21,"m":1438,"l":1360,"h":1598},
      {"p":"CO","d":"vehicle","t":22,"m":1448,"l":1370,"h":1615},
      {"p":"CO","d":"vehicle","t":23,"m":1443,"l":1364,"h":1610},
      {"p":"CO","d":"vehicle","t":24,"m":1400,"l":1322,"h":1560},

      {"p":"CO","d":"3 mg/kg","t":0,"m":1408,"l":1330,"h":1490},
      {"p":"CO","d":"3 mg/kg","t":0.5,"m":1310,"l":1235,"h":1395},
      {"p":"CO","d":"3 mg/kg","t":1,"m":1235,"l":1160,"h":1320},
      {"p":"CO","d":"3 mg/kg","t":1.5,"m":1180,"l":1105,"h":1265},
      {"p":"CO","d":"3 mg/kg","t":2,"m":1140,"l":1065,"h":1225},
      {"p":"CO","d":"3 mg/kg","t":2.5,"m":1105,"l":1030,"h":1188},
      {"p":"CO","d":"3 mg/kg","t":3,"m":1085,"l":1012,"h":1165},
      {"p":"CO","d":"3 mg/kg","t":4,"m":1090,"l":1017,"h":1170},
      {"p":"CO","d":"3 mg/kg","t":5,"m":1120,"l":1045,"h":1200},
      {"p":"CO","d":"3 mg/kg","t":6,"m":1165,"l":1090,"h":1245},
      {"p":"CO","d":"3 mg/kg","t":7,"m":1205,"l":1130,"h":1285},
      {"p":"CO","d":"3 mg/kg","t":8,"m":1225,"l":1150,"h":1307},
      {"p":"CO","d":"3 mg/kg","t":9,"m":1232,"l":1158,"h":1315},
      {"p":"CO","d":"3 mg/kg","t":10,"m":1240,"l":1165,"h":1322},
      {"p":"CO","d":"3 mg/kg","t":11,"m":1262,"l":1187,"h":1345},
      {"p":"CO","d":"3 mg/kg","t":12,"m":1305,"l":1230,"h":1388},
      {"p":"CO","d":"3 mg/kg","t":13,"m":1360,"l":1285,"h":1442},
      {"p":"CO","d":"3 mg/kg","t":14,"m":1415,"l":1338,"h":1497},
      {"p":"CO","d":"3 mg/kg","t":15,"m":1447,"l":1370,"h":1530},
      {"p":"CO","d":"3 mg/kg","t":16,"m":1450,"l":1373,"h":1532},
      {"p":"CO","d":"3 mg/kg","t":17,"m":1425,"l":1350,"h":1507},
      {"p":"CO","d":"3 mg/kg","t":18,"m":1400,"l":1325,"h":1482},
      {"p":"CO","d":"3 mg/kg","t":19,"m":1390,"l":1316,"h":1472},
      {"p":"CO","d":"3 mg/kg","t":20,"m":1392,"l":1318,"h":1474},
      {"p":"CO","d":"3 mg/kg","t":21,"m":1405,"l":1330,"h":1487},
      {"p":"CO","d":"3 mg/kg","t":22,"m":1422,"l":1346,"h":1504},
      {"p":"CO","d":"3 mg/kg","t":23,"m":1428,"l":1352,"h":1510},
      {"p":"CO","d":"3 mg/kg","t":24,"m":1385,"l":1310,"h":1467},

      {"p":"CO","d":"10 mg/kg","t":0,"m":1420,"l":1345,"h":1495},
      {"p":"CO","d":"10 mg/kg","t":0.5,"m":1290,"l":1215,"h":1365},
      {"p":"CO","d":"10 mg/kg","t":1,"m":1190,"l":1115,"h":1265},
      {"p":"CO","d":"10 mg/kg","t":1.5,"m":1120,"l":1040,"h":1195},
      {"p":"CO","d":"10 mg/kg","t":2,"m":1075,"l":990,"h":1148},
      {"p":"CO","d":"10 mg/kg","t":2.5,"m":1035,"l":945,"h":1108},
      {"p":"CO","d":"10 mg/kg","t":3,"m":1008,"l":915,"h":1080},
      {"p":"CO","d":"10 mg/kg","t":4,"m":1002,"l":905,"h":1075},
      {"p":"CO","d":"10 mg/kg","t":5,"m":1030,"l":930,"h":1102},
      {"p":"CO","d":"10 mg/kg","t":6,"m":1072,"l":970,"h":1145},
      {"p":"CO","d":"10 mg/kg","t":7,"m":1100,"l":1012,"h":1173},
      {"p":"CO","d":"10 mg/kg","t":8,"m":1118,"l":1038,"h":1192},
      {"p":"CO","d":"10 mg/kg","t":9,"m":1128,"l":1050,"h":1202},
      {"p":"CO","d":"10 mg/kg","t":10,"m":1138,"l":1060,"h":1213},
      {"p":"CO","d":"10 mg/kg","t":11,"m":1165,"l":1088,"h":1240},
      {"p":"CO","d":"10 mg/kg","t":12,"m":1208,"l":1131,"h":1283},
      {"p":"CO","d":"10 mg/kg","t":13,"m":1265,"l":1188,"h":1340},
      {"p":"CO","d":"10 mg/kg","t":14,"m":1320,"l":1243,"h":1395},
      {"p":"CO","d":"10 mg/kg","t":15,"m":1348,"l":1271,"h":1423},
      {"p":"CO","d":"10 mg/kg","t":16,"m":1358,"l":1281,"h":1433},
      {"p":"CO","d":"10 mg/kg","t":17,"m":1348,"l":1271,"h":1423},
      {"p":"CO","d":"10 mg/kg","t":18,"m":1335,"l":1258,"h":1410},
      {"p":"CO","d":"10 mg/kg","t":19,"m":1328,"l":1251,"h":1403},
      {"p":"CO","d":"10 mg/kg","t":20,"m":1333,"l":1256,"h":1408},
      {"p":"CO","d":"10 mg/kg","t":21,"m":1350,"l":1273,"h":1425},
      {"p":"CO","d":"10 mg/kg","t":22,"m":1372,"l":1295,"h":1447},
      {"p":"CO","d":"10 mg/kg","t":23,"m":1380,"l":1303,"h":1455},
      {"p":"CO","d":"10 mg/kg","t":24,"m":1352,"l":1275,"h":1427},

      {"p":"CO","d":"30 mg/kg","t":0,"m":1380,"l":1290,"h":1460},
      {"p":"CO","d":"30 mg/kg","t":0.5,"m":1230,"l":1130,"h":1320},
      {"p":"CO","d":"30 mg/kg","t":1,"m":1120,"l":1020,"h":1215},
      {"p":"CO","d":"30 mg/kg","t":1.5,"m":1045,"l":945,"h":1140},
      {"p":"CO","d":"30 mg/kg","t":2,"m":995,"l":895,"h":1090},
      {"p":"CO","d":"30 mg/kg","t":2.5,"m":960,"l":862,"h":1055},
      {"p":"CO","d":"30 mg/kg","t":3,"m":933,"l":842,"h":1028},
      {"p":"CO","d":"30 mg/kg","t":4,"m":922,"l":832,"h":1015},
      {"p":"CO","d":"30 mg/kg","t":5,"m":940,"l":848,"h":1032},
      {"p":"CO","d":"30 mg/kg","t":6,"m":972,"l":878,"h":1064},
      {"p":"CO","d":"30 mg/kg","t":7,"m":994,"l":898,"h":1086},
      {"p":"CO","d":"30 mg/kg","t":8,"m":1000,"l":905,"h":1094},
      {"p":"CO","d":"30 mg/kg","t":9,"m":1002,"l":907,"h":1097},
      {"p":"CO","d":"30 mg/kg","t":10,"m":1005,"l":912,"h":1100},
      {"p":"CO","d":"30 mg/kg","t":11,"m":1030,"l":935,"h":1125},
      {"p":"CO","d":"30 mg/kg","t":12,"m":1075,"l":975,"h":1168},
      {"p":"CO","d":"30 mg/kg","t":13,"m":1130,"l":1025,"h":1222},
      {"p":"CO","d":"30 mg/kg","t":14,"m":1178,"l":1068,"h":1268},
      {"p":"CO","d":"30 mg/kg","t":15,"m":1197,"l":1085,"h":1285},
      {"p":"CO","d":"30 mg/kg","t":16,"m":1198,"l":1088,"h":1288},
      {"p":"CO","d":"30 mg/kg","t":17,"m":1188,"l":1080,"h":1280},
      {"p":"CO","d":"30 mg/kg","t":18,"m":1178,"l":1072,"h":1272},
      {"p":"CO","d":"30 mg/kg","t":19,"m":1176,"l":1072,"h":1272},
      {"p":"CO","d":"30 mg/kg","t":20,"m":1185,"l":1082,"h":1282},
      {"p":"CO","d":"30 mg/kg","t":21,"m":1210,"l":1103,"h":1305},
      {"p":"CO","d":"30 mg/kg","t":22,"m":1238,"l":1125,"h":1330},
      {"p":"CO","d":"30 mg/kg","t":23,"m":1245,"l":1130,"h":1336},
      {"p":"CO","d":"30 mg/kg","t":24,"m":1223,"l":1112,"h":1318},

      {"p":"MAP","d":"vehicle","t":0,"m":105.2,"l":90.5,"h":125.3},
      {"p":"MAP","d":"vehicle","t":0.5,"m":105.6,"l":90.5,"h":125.8},
      {"p":"MAP","d":"vehicle","t":1,"m":106.0,"l":90.5,"h":126.1},
      {"p":"MAP","d":"vehicle","t":1.5,"m":106.2,"l":90.4,"h":126.2},
      {"p":"MAP","d":"vehicle","t":2,"m":106.2,"l":90.2,"h":126.1},
      {"p":"MAP","d":"vehicle","t":2.5,"m":106.0,"l":89.8,"h":125.7},
      {"p":"MAP","d":"vehicle","t":3,"m":105.4,"l":89.3,"h":125.0},
      {"p":"MAP","d":"vehicle","t":4,"m":104.0,"l":88.0,"h":123.8},
      {"p":"MAP","d":"vehicle","t":5,"m":102.4,"l":86.8,"h":122.6},
      {"p":"MAP","d":"vehicle","t":6,"m":101.7,"l":86.5,"h":122.2},
      {"p":"MAP","d":"vehicle","t":7,"m":102.8,"l":87.5,"h":123.4},
      {"p":"MAP","d":"vehicle","t":8,"m":104.8,"l":89.3,"h":125.5},
      {"p":"MAP","d":"vehicle","t":9,"m":106.8,"l":91.0,"h":127.2},
      {"p":"MAP","d":"vehicle","t":10,"m":108.2,"l":92.2,"h":127.8},
      {"p":"MAP","d":"vehicle","t":11,"m":108.6,"l":92.5,"h":127.6},
      {"p":"MAP","d":"vehicle","t":12,"m":108.0,"l":92.0,"h":126.8},
      {"p":"MAP","d":"vehicle","t":13,"m":106.9,"l":91.0,"h":126.0},
      {"p":"MAP","d":"vehicle","t":14,"m":106.3,"l":90.7,"h":125.8},
      {"p":"MAP","d":"vehicle","t":15,"m":106.9,"l":91.3,"h":126.6},
      {"p":"MAP","d":"vehicle","t":16,"m":108.5,"l":92.7,"h":128.2},
      {"p":"MAP","d":"vehicle","t":17,"m":110.0,"l":94.0,"h":129.4},
      {"p":"MAP","d":"vehicle","t":18,"m":110.7,"l":94.5,"h":129.7},
      {"p":"MAP","d":"vehicle","t":19,"m":109.6,"l":93.5,"h":128.6},
      {"p":"MAP","d":"vehicle","t":20,"m":107.3,"l":91.5,"h":126.7},
      {"p":"MAP","d":"vehicle","t":21,"m":105.2,"l":89.7,"h":125.0},
      {"p":"MAP","d":"vehicle","t":22,"m":104.1,"l":89.0,"h":124.4},
      {"p":"MAP","d":"vehicle","t":23,"m":104.0,"l":89.2,"h":124.6},
      {"p":"MAP","d":"vehicle","t":24,"m":105.2,"l":90.4,"h":125.3},

      {"p":"MAP","d":"3 mg/kg","t":0,"m":103.3,"l":91.0,"h":121.7},
      {"p":"MAP","d":"3 mg/kg","t":0.5,"m":98.2,"l":87.5,"h":118.5},
      {"p":"MAP","d":"3 mg/kg","t":1,"m":95.8,"l":85.5,"h":116.3},
      {"p":"MAP","d":"3 mg/kg","t":1.5,"m":95.0,"l":84.8,"h":115.6},
      {"p":"MAP","d":"3 mg/kg","t":2,"m":94.8,"l":84.6,"h":115.4},
      {"p":"MAP","d":"3 mg/kg","t":2.5,"m":94.8,"l":84.5,"h":115.3},
      {"p":"MAP","d":"3 mg/kg","t":3,"m":94.7,"l":84.3,"h":115.0},
      {"p":"MAP","d":"3 mg/kg","t":4,"m":94.2,"l":83.7,"h":114.0},
      {"p":"MAP","d":"3 mg/kg","t":5,"m":93.4,"l":82.8,"h":112.4},
      {"p":"MAP","d":"3 mg/kg","t":6,"m":93.2,"l":82.5,"h":111.8},
      {"p":"MAP","d":"3 mg/kg","t":7,"m":94.8,"l":84.0,"h":113.5},
      {"p":"MAP","d":"3 mg/kg","t":8,"m":97.6,"l":86.8,"h":116.8},
      {"p":"MAP","d":"3 mg/kg","t":9,"m":100.4,"l":89.5,"h":119.8},
      {"p":"MAP","d":"3 mg/kg","t":10,"m":102.2,"l":91.2,"h":121.6},
      {"p":"MAP","d":"3 mg/kg","t":11,"m":102.7,"l":91.7,"h":122.0},
      {"p":"MAP","d":"3 mg/kg","t":12,"m":102.2,"l":91.2,"h":121.3},
      {"p":"MAP","d":"3 mg/kg","t":13,"m":101.5,"l":90.5,"h":120.4},
      {"p":"MAP","d":"3 mg/kg","t":14,"m":101.4,"l":90.4,"h":120.3},
      {"p":"MAP","d":"3 mg/kg","t":15,"m":102.3,"l":91.2,"h":121.5},
      {"p":"MAP","d":"3 mg/kg","t":16,"m":104.3,"l":93.0,"h":123.7},
      {"p":"MAP","d":"3 mg/kg","t":17,"m":106.2,"l":94.8,"h":125.3},
      {"p":"MAP","d":"3 mg/kg","t":18,"m":106.8,"l":95.3,"h":125.5},
      {"p":"MAP","d":"3 mg/kg","t":19,"m":105.7,"l":94.3,"h":124.2},
      {"p":"MAP","d":"3 mg/kg","t":20,"m":103.7,"l":92.3,"h":122.2},
      {"p":"MAP","d":"3 mg/kg","t":21,"m":101.8,"l":90.4,"h":120.8},
      {"p":"MAP","d":"3 mg/kg","t":22,"m":100.7,"l":89.3,"h":120.4},
      {"p":"MAP","d":"3 mg/kg","t":23,"m":100.8,"l":89.4,"h":120.8},
      {"p":"MAP","d":"3 mg/kg","t":24,"m":102.0,"l":90.6,"h":121.7},

      {"p":"MAP","d":"10 mg/kg","t":0,"m":103.5,"l":88.5,"h":119.0},
      {"p":"MAP","d":"10 mg/kg","t":0.5,"m":96.8,"l":83.5,"h":115.0},
      {"p":"MAP","d":"10 mg/kg","t":1,"m":93.6,"l":81.5,"h":113.0},
      {"p":"MAP","d":"10 mg/kg","t":1.5,"m":92.5,"l":80.8,"h":112.3},
      {"p":"MAP","d":"10 mg/kg","t":2,"m":92.0,"l":80.5,"h":112.0},
      {"p":"MAP","d":"10 mg/kg","t":2.5,"m":91.8,"l":80.3,"h":111.8},
      {"p":"MAP","d":"10 mg/kg","t":3,"m":91.5,"l":80.0,"h":111.4},
      {"p":"MAP","d":"10 mg/kg","t":4,"m":90.6,"l":79.4,"h":110.4},
      {"p":"MAP","d":"10 mg/kg","t":5,"m":89.6,"l":78.8,"h":109.3},
      {"p":"MAP","d":"10 mg/kg","t":6,"m":89.3,"l":78.7,"h":109.0},
      {"p":"MAP","d":"10 mg/kg","t":7,"m":90.9,"l":80.3,"h":110.8},
      {"p":"MAP","d":"10 mg/kg","t":8,"m":93.6,"l":83.2,"h":113.8},
      {"p":"MAP","d":"10 mg/kg","t":9,"m":96.6,"l":86.2,"h":116.8},
      {"p":"MAP","d":"10 mg/kg","t":10,"m":98.7,"l":88.2,"h":118.4},
      {"p":"MAP","d":"10 mg/kg","t":11,"m":99.4,"l":88.8,"h":118.8},
      {"p":"MAP","d":"10 mg/kg","t":12,"m":99.2,"l":88.6,"h":118.4},
      {"p":"MAP","d":"10 mg/kg","t":13,"m":98.7,"l":88.1,"h":117.7},
      {"p":"MAP","d":"10 mg/kg","t":14,"m":98.7,"l":88.2,"h":117.8},
      {"p":"MAP","d":"10 mg/kg","t":15,"m":99.6,"l":89.3,"h":119.0},
      {"p":"MAP","d":"10 mg/kg","t":16,"m":101.8,"l":91.5,"h":121.3},
      {"p":"MAP","d":"10 mg/kg","t":17,"m":104.0,"l":93.5,"h":123.0},
      {"p":"MAP","d":"10 mg/kg","t":18,"m":105.2,"l":94.4,"h":123.3},
      {"p":"MAP","d":"10 mg/kg","t":19,"m":104.5,"l":93.6,"h":122.4},
      {"p":"MAP","d":"10 mg/kg","t":20,"m":102.5,"l":91.7,"h":120.9},
      {"p":"MAP","d":"10 mg/kg","t":21,"m":100.5,"l":90.0,"h":119.8},
      {"p":"MAP","d":"10 mg/kg","t":22,"m":99.8,"l":89.4,"h":119.6},
      {"p":"MAP","d":"10 mg/kg","t":23,"m":100.0,"l":89.5,"h":119.8},
      {"p":"MAP","d":"10 mg/kg","t":24,"m":101.5,"l":90.0,"h":120.2},

      {"p":"MAP","d":"30 mg/kg","t":0,"m":99.8,"l":88.0,"h":110.0},
      {"p":"MAP","d":"30 mg/kg","t":0.5,"m":92.5,"l":80.0,"h":104.0},
      {"p":"MAP","d":"30 mg/kg","t":1,"m":88.5,"l":76.5,"h":100.5},
      {"p":"MAP","d":"30 mg/kg","t":1.5,"m":86.7,"l":74.8,"h":98.8},
      {"p":"MAP","d":"30 mg/kg","t":2,"m":85.8,"l":74.0,"h":98.0},
      {"p":"MAP","d":"30 mg/kg","t":2.5,"m":85.3,"l":73.4,"h":97.4},
      {"p":"MAP","d":"30 mg/kg","t":3,"m":84.9,"l":72.8,"h":97.0},
      {"p":"MAP","d":"30 mg/kg","t":4,"m":84.0,"l":71.6,"h":96.0},
      {"p":"MAP","d":"30 mg/kg","t":5,"m":82.8,"l":70.5,"h":94.8},
      {"p":"MAP","d":"30 mg/kg","t":6,"m":82.3,"l":70.0,"h":94.3},
      {"p":"MAP","d":"30 mg/kg","t":7,"m":83.8,"l":71.6,"h":95.8},
      {"p":"MAP","d":"30 mg/kg","t":8,"m":86.4,"l":74.5,"h":98.5},
      {"p":"MAP","d":"30 mg/kg","t":9,"m":89.2,"l":77.2,"h":101.3},
      {"p":"MAP","d":"30 mg/kg","t":10,"m":90.9,"l":78.3,"h":103.0},
      {"p":"MAP","d":"30 mg/kg","t":11,"m":91.4,"l":78.6,"h":103.4},
      {"p":"MAP","d":"30 mg/kg","t":12,"m":91.2,"l":78.5,"h":103.2},
      {"p":"MAP","d":"30 mg/kg","t":13,"m":90.8,"l":78.2,"h":102.8},
      {"p":"MAP","d":"30 mg/kg","t":14,"m":90.8,"l":78.4,"h":102.8},
      {"p":"MAP","d":"30 mg/kg","t":15,"m":91.8,"l":79.8,"h":103.8},
      {"p":"MAP","d":"30 mg/kg","t":16,"m":94.0,"l":82.2,"h":106.0},
      {"p":"MAP","d":"30 mg/kg","t":17,"m":96.4,"l":84.4,"h":108.3},
      {"p":"MAP","d":"30 mg/kg","t":18,"m":97.6,"l":85.2,"h":109.4},
      {"p":"MAP","d":"30 mg/kg","t":19,"m":96.8,"l":84.4,"h":108.6},
      {"p":"MAP","d":"30 mg/kg","t":20,"m":95.0,"l":82.6,"h":106.8},
      {"p":"MAP","d":"30 mg/kg","t":21,"m":93.5,"l":81.2,"h":105.3},
      {"p":"MAP","d":"30 mg/kg","t":22,"m":93.0,"l":80.6,"h":104.8},
      {"p":"MAP","d":"30 mg/kg","t":23,"m":93.3,"l":81.0,"h":105.1},
      {"p":"MAP","d":"30 mg/kg","t":24,"m":94.8,"l":82.5,"h":106.5}
    ]
  }
}
